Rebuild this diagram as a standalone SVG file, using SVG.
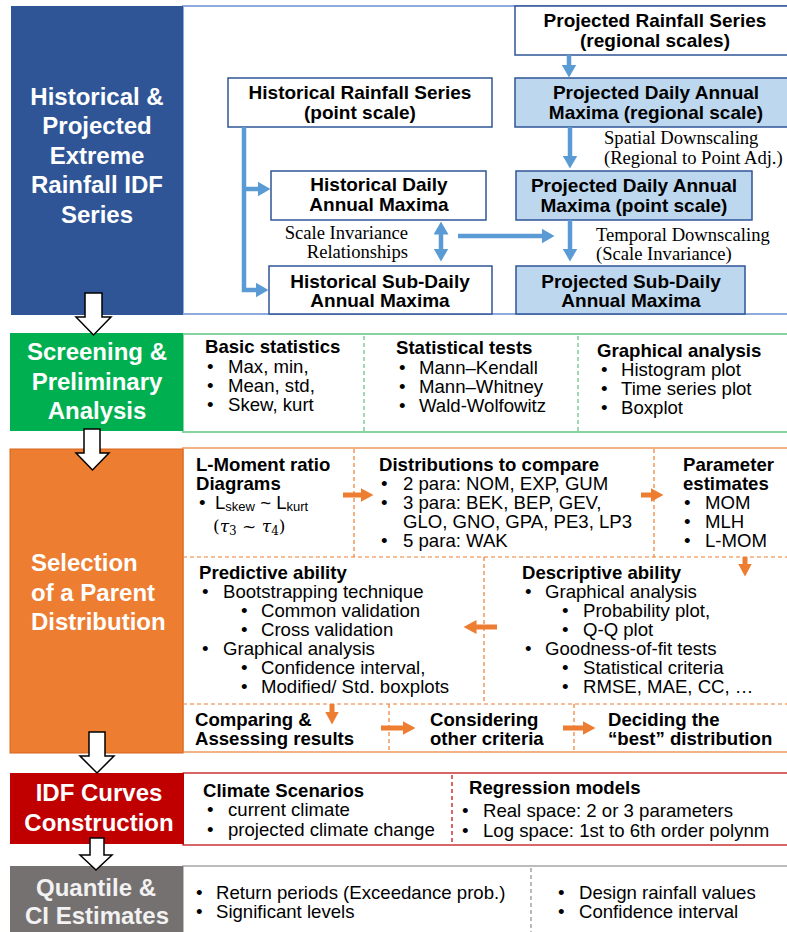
<svg xmlns="http://www.w3.org/2000/svg" width="787" height="932" viewBox="0 0 787 932">
<defs>
<marker id="mb" markerUnits="userSpaceOnUse" markerWidth="13" markerHeight="15" viewBox="0 0 13 15" refX="0.5" refY="7.5" orient="auto-start-reverse"><path d="M0,0 L13,7.5 L0,15 z" fill="#5b9bd5"/></marker>
<marker id="mo" markerUnits="userSpaceOnUse" markerWidth="13" markerHeight="14" viewBox="0 0 13 14" refX="0.5" refY="7" orient="auto"><path d="M0,0 L13,7 L0,14 z" fill="#ed7d31"/></marker>
</defs>
<style>
.title{font-family:"Liberation Sans",Arial,sans-serif;font-size:24px;font-weight:bold;fill:#fff;}
.bx{font-family:"Liberation Sans",Arial,sans-serif;font-size:19px;font-weight:bold;fill:#000;text-anchor:middle;}
.h{font-family:"Liberation Sans",Arial,sans-serif;font-size:18.6px;font-weight:bold;fill:#000;}
.b{font-family:"Liberation Sans",Arial,sans-serif;font-size:18.6px;fill:#000;}
.s{font-family:"Liberation Serif","Times New Roman",serif;font-size:18.6px;fill:#000;}
.m{font-family:"DejaVu Serif","Liberation Serif",serif;font-size:17px;fill:#000;}
.wb{fill:#fff;stroke:#2f5597;stroke-width:1.5;}
.lb{fill:#bdd7ee;stroke:#2f5597;stroke-width:1.5;}
.ba{stroke:#5b9bd5;stroke-width:4.5;fill:none;marker-end:url(#mb);}
.oa{stroke:#ed7d31;stroke-width:5;fill:none;marker-end:url(#mo);}
.blk{fill:#fff;stroke:#000;stroke-width:1.5;stroke-linejoin:miter;}
.dg{stroke:#5cbf7c;stroke-width:1.2;stroke-dasharray:4 3;}
.do{stroke:#ed7d31;stroke-width:1.2;stroke-dasharray:4 3;}
.dr{stroke:#c00000;stroke-width:1.2;stroke-dasharray:4 3;}
.dy{stroke:#8c8c8c;stroke-width:1.2;stroke-dasharray:4 3;}
</style>

<!-- Section 1 -->
<g id="sec-historical-projected">
<rect x="183" y="6" width="606" height="308" fill="#fff" stroke="#8faadc" stroke-width="2"/>
<rect x="11" y="6" width="172" height="309" fill="#2f5597"/>
<text class="title" text-anchor="middle"><tspan x="97" y="105">Historical &amp;</tspan><tspan x="97" y="134">Projected</tspan><tspan x="97" y="164">Extreme</tspan><tspan x="97" y="193">Rainfall IDF</tspan><tspan x="97" y="223">Series</tspan></text>
</g>

<g id="proj-rain">
<rect class="wb" x="515" y="6" width="280" height="49"/>
<text class="bx"><tspan x="655" y="27">Projected Rainfall Series</tspan><tspan x="655" y="47">(regional scales)</tspan></text>
</g>
<g id="proj-daily-regional">
<rect class="lb" x="515" y="78" width="280" height="49"/>
<text class="bx"><tspan x="656" y="99">Projected Daily Annual</tspan><tspan x="656" y="119">Maxima  (regional scale)</tspan></text>
</g>
<g id="proj-daily-point">
<rect class="lb" x="516" y="171" width="236" height="49"/>
<text class="bx"><tspan x="634" y="192">Projected Daily Annual</tspan><tspan x="634" y="212">Maxima (point scale)</tspan></text>
</g>
<g id="proj-subdaily">
<rect class="lb" x="516" y="266" width="229" height="48"/>
<text class="bx"><tspan x="631" y="288">Projected Sub-Daily</tspan><tspan x="631" y="307">Annual Maxima</tspan></text>
</g>
<g id="hist-rain">
<rect class="wb" x="228" y="78" width="264" height="49"/>
<text class="bx"><tspan x="360" y="99">Historical Rainfall Series</tspan><tspan x="360" y="119">(point scale)</tspan></text>
</g>
<g id="hist-daily">
<rect class="wb" x="271" y="171" width="215" height="49"/>
<text class="bx"><tspan x="379" y="191">Historical Daily</tspan><tspan x="379" y="211">Annual Maxima</tspan></text>
</g>
<g id="hist-subdaily">
<rect class="wb" x="269" y="266" width="223" height="48"/>
<text class="bx"><tspan x="380" y="288">Historical Sub-Daily</tspan><tspan x="380" y="307">Annual Maxima</tspan></text>
</g>
<g id="labels-top">
<text class="s"><tspan x="604" y="144">Spatial Downscaling</tspan><tspan x="604" y="164">(Regional to Point Adj.)</tspan></text>
<text class="s"><tspan x="596" y="241">Temporal Downscaling</tspan><tspan x="596" y="260">(Scale Invariance)</tspan></text>
<text class="s" text-anchor="end"><tspan x="408" y="239">Scale Invariance</tspan><tspan x="408" y="258">Relationships</tspan></text>
</g>

<!-- Section 2 -->
<g id="sec-screening">
<rect x="183" y="334" width="606" height="98" fill="#fff" stroke="#86d3a0" stroke-width="2"/>
<rect x="10" y="333" width="173" height="98" fill="#00b050"/>
<text class="title" text-anchor="middle"><tspan x="97" y="360">Screening &amp;</tspan><tspan x="97" y="390">Preliminary</tspan><tspan x="97" y="419">Analysis</tspan></text>
<line class="dg" x1="364" y1="336" x2="364" y2="431"/>
<line class="dg" x1="578" y1="336" x2="578" y2="431"/>
</g>
<g id="basic-stats">
<text class="h" x="205" y="353">Basic statistics</text>
<text class="b"><tspan x="207" y="373">•</tspan><tspan x="207" y="392">•</tspan><tspan x="207" y="411">•</tspan></text>
<text class="b"><tspan x="228" y="373">Max,  min,</tspan><tspan x="228" y="392">Mean,  std,</tspan><tspan x="228" y="411">Skew, kurt</tspan></text>
</g>
<g id="stat-tests">
<text class="h" x="396" y="354">Statistical tests</text>
<text class="b"><tspan x="399" y="374">•</tspan><tspan x="399" y="393">•</tspan><tspan x="399" y="412">•</tspan></text>
<text class="b"><tspan x="419" y="374">Mann–Kendall</tspan><tspan x="419" y="393">Mann–Whitney</tspan><tspan x="419" y="412">Wald-Wolfowitz</tspan></text>
</g>
<g id="graph-analysis">
<text class="h" x="597" y="357">Graphical analysis</text>
<text class="b"><tspan x="601" y="376">•</tspan><tspan x="601" y="395">•</tspan><tspan x="601" y="414">•</tspan></text>
<text class="b"><tspan x="621" y="376">Histogram plot</tspan><tspan x="621" y="395">Time series plot</tspan><tspan x="621" y="414">Boxplot</tspan></text>
</g>

<!-- Section 3 -->
<g id="sec-selection">
<rect x="183" y="448" width="606" height="304" fill="#fff" stroke="#f4b183" stroke-width="2"/>
<rect x="10" y="449" width="173" height="304" fill="#ed7d31" stroke="#d5661e" stroke-width="1"/>
<text class="title"><tspan x="31" y="571">Selection</tspan><tspan x="31" y="601">of a Parent</tspan><tspan x="31" y="630">Distribution</tspan></text>
<line class="do" x1="183" y1="557" x2="787" y2="557"/>
<line class="do" x1="354" y1="449" x2="354" y2="557"/>
<line class="do" x1="654" y1="449" x2="654" y2="557"/>
<line class="do" x1="484" y1="557" x2="484" y2="704"/>
<line class="do" x1="183" y1="704" x2="787" y2="704"/>
<line class="do" x1="389" y1="704" x2="389" y2="752"/>
<line class="do" x1="574" y1="704" x2="574" y2="752"/>
</g>
<g id="lmoment">
<text class="h"><tspan x="196" y="471">L-Moment ratio</tspan><tspan x="196" y="490">Diagrams</tspan></text>
<text class="b" x="199" y="509">•</text>
<text class="b" x="215" y="509">L<tspan font-size="13" dy="2">skew</tspan><tspan dy="-2"> ~ L</tspan><tspan font-size="13" dy="2">kurt</tspan></text>
<text class="m" x="213" y="532">(<tspan font-style="italic">τ</tspan><tspan font-size="12" dy="3">3</tspan><tspan dy="-3"> ~ </tspan><tspan font-style="italic">τ</tspan><tspan font-size="12" dy="3">4</tspan><tspan dy="-3">)</tspan></text>
</g>
<g id="distributions">
<text class="h" x="379" y="471">Distributions to compare</text>
<text class="b"><tspan x="381" y="490">•</tspan><tspan x="381" y="509">•</tspan><tspan x="381" y="547">•</tspan></text>
<text class="b"><tspan x="403" y="490">2 para: NOM,  EXP, GUM</tspan><tspan x="403" y="509">3 para: BEK, BEP, GEV,</tspan><tspan x="403" y="528">GLO, GNO, GPA, PE3, LP3</tspan><tspan x="403" y="547">5 para: WAK</tspan></text>
</g>
<g id="param-est">
<text class="h"><tspan x="683" y="471">Parameter</tspan><tspan x="683" y="490">estimates</tspan></text>
<text class="b"><tspan x="684" y="509">•</tspan><tspan x="684" y="528">•</tspan><tspan x="684" y="547">•</tspan></text>
<text class="b"><tspan x="705" y="509">MOM</tspan><tspan x="705" y="528">MLH</tspan><tspan x="705" y="547">L-MOM</tspan></text>
</g>
<g id="predictive">
<text class="h" x="199" y="579">Predictive ability</text>
<text class="b"><tspan x="202" y="598">•</tspan><tspan x="202" y="655">•</tspan><tspan x="241" y="617">•</tspan><tspan x="241" y="636">•</tspan><tspan x="241" y="674">•</tspan><tspan x="241" y="693">•</tspan></text>
<text class="b"><tspan x="223" y="598">Bootstrapping technique</tspan><tspan x="261" y="617">Common validation</tspan><tspan x="261" y="636">Cross validation</tspan><tspan x="223" y="655">Graphical analysis</tspan><tspan x="261" y="674">Confidence interval,</tspan><tspan x="261" y="693">Modified/  Std. boxplots</tspan></text>
</g>
<g id="descriptive">
<text class="h" x="522" y="579">Descriptive ability</text>
<text class="b"><tspan x="525" y="598">•</tspan><tspan x="525" y="655">•</tspan><tspan x="562" y="617">•</tspan><tspan x="562" y="636">•</tspan><tspan x="562" y="674">•</tspan><tspan x="562" y="693">•</tspan></text>
<text class="b"><tspan x="545" y="598">Graphical analysis</tspan><tspan x="583" y="617">Probability plot,</tspan><tspan x="583" y="636">Q-Q plot</tspan><tspan x="545" y="655">Goodness-of-fit tests</tspan><tspan x="583" y="674">Statistical criteria</tspan><tspan x="583" y="693">RMSE, MAE,  CC, …</tspan></text>
</g>
<g id="comparing">
<text class="h"><tspan x="195" y="726">Comparing &amp;</tspan><tspan x="195" y="745">Assessing results</tspan></text>
</g>
<g id="considering">
<text class="h"><tspan x="430" y="726">Considering</tspan><tspan x="430" y="745">other criteria</tspan></text>
</g>
<g id="deciding">
<text class="h"><tspan x="608" y="726">Deciding the</tspan><tspan x="608" y="745">“best” distribution</tspan></text>
</g>

<!-- Section 4 -->
<g id="sec-idf">
<rect x="183" y="773" width="606" height="72" fill="#fff" stroke="#c00000" stroke-width="1.2"/>
<rect x="10" y="773" width="174" height="71" fill="#c00000"/>
<text class="title" text-anchor="middle"><tspan x="99" y="801">IDF Curves</tspan><tspan x="99" y="831">Construction</tspan></text>
<line class="dr" x1="452" y1="775" x2="452" y2="845"/>
</g>
<g id="climate">
<text class="h" x="203" y="797">Climate Scenarios</text>
<text class="b"><tspan x="207" y="816">•</tspan><tspan x="207" y="836">•</tspan></text>
<text class="b"><tspan x="228" y="816">current climate</tspan><tspan x="228" y="836">projected climate change</tspan></text>
</g>
<g id="regression">
<text class="h" x="469" y="794">Regression models</text>
<text class="b"><tspan x="462" y="817">•</tspan><tspan x="462" y="837">•</tspan></text>
<text class="b"><tspan x="483" y="817">Real space: 2 or 3 parameters</tspan><tspan x="483" y="837">Log space: 1st to 6th order polynm</tspan></text>
</g>

<!-- Section 5 -->
<g id="sec-quantile">
<rect x="183" y="866" width="606" height="80" fill="#fff" stroke="#a6a6a6" stroke-width="1.5"/>
<rect x="10" y="866" width="173" height="70" fill="#767171"/>
<text class="title" text-anchor="middle" style="fill:#f2f2f2"><tspan x="96" y="896">Quantile &amp;</tspan><tspan x="97" y="924">CI Estimates</tspan></text>
<line class="dy" x1="531" y1="868" x2="531" y2="932"/>
</g>
<g id="return-periods">
<text class="b"><tspan x="196" y="899">•</tspan><tspan x="196" y="918">•</tspan></text>
<text class="b"><tspan x="216" y="899">Return periods (Exceedance prob.)</tspan><tspan x="216" y="918">Significant levels</tspan></text>
</g>
<g id="design-values">
<text class="b"><tspan x="558" y="899">•</tspan><tspan x="558" y="918">•</tspan></text>
<text class="b"><tspan x="579" y="899">Design rainfall values</tspan><tspan x="579" y="918">Confidence interval</tspan></text>
</g>

<!-- Connectors -->
<g id="connectors">
<path class="ba" d="M569,55 V65"/>
<path class="ba" d="M570,127 V156"/>
<path class="ba" d="M570,220 V249"/>
<path class="ba" d="M244,127 V290 H256"/>
<path class="ba" d="M244,189 H258"/>
<path class="ba" d="M441,234 V249" style="marker-start:url(#mb)"/>
<path class="ba" d="M458,236 H542"/>
<path class="oa" d="M343,495 H361"/>
<path class="oa" d="M641,495 H651"/>
<path class="oa" d="M745,557 V564"/>
<path class="oa" d="M497,627 H476"/>
<path class="oa" d="M332,704 V712"/>
<path class="oa" d="M381,728 H403"/>
<path class="oa" d="M563,728 H583"/>
<polygon class="blk" points="85,293 102,293 102,317 111,317 93.5,335 76,317 85,317"/>
<polygon class="blk" points="84,429 100,429 100,453 109,453 92.5,470 76,453 84,453"/>
<polygon class="blk" points="89,732 105,732 105,756 114,756 97,773 80,756 89,756"/>
<polygon class="blk" points="90,838 104,838 104,855 112,855 96,870 80,855 90,855"/>
</g>
</svg>
